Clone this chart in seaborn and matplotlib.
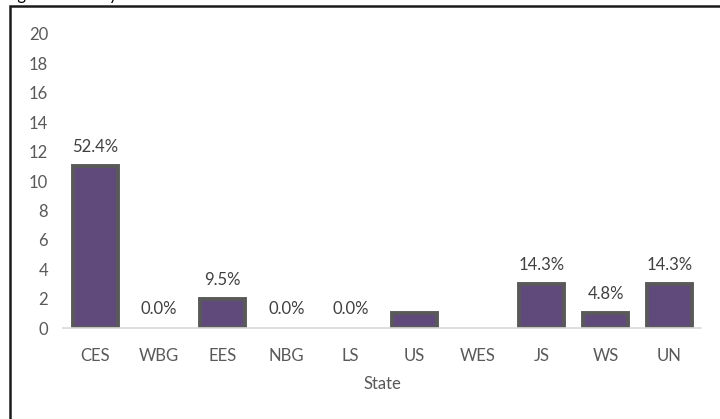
import matplotlib
matplotlib.use("Agg")
import matplotlib.pyplot as plt
import seaborn as sns
import pandas as pd
from matplotlib.patches import Rectangle

states = ["CES", "WBG", "EES", "NBG", "LS", "US", "WES", "JS", "WS", "UN"]
counts = [11, 0, 2, 0, 0, 1, 0, 3, 1, 3]
pct_labels = ["52.4%", "0.0%", "9.5%", "0.0%", "0.0%", "", "", "14.3%", "4.8%", "14.3%"]
y_ticks = [0, 2, 4, 6, 8, 10, 12, 14, 16, 18, 20]

sns.set_theme(style="white")
plt.rcParams['font.family'] = ['Lato', 'DejaVu Sans']

df = pd.DataFrame({"State": states, "Count": counts})

fig = plt.figure(figsize=(7.2, 4.19), dpi=100)
ax = fig.add_axes([0.088, 0.217, 0.886, 0.702])

sns.barplot(data=df, x="State", y="Count", ax=ax, color="#604A7B",
            width=0.71, edgecolor="#595959", linewidth=2.8, saturation=1)

for patch, v in zip(ax.patches, counts):
    if v == 0:
        patch.set_linewidth(0)

for i, (v, lab) in enumerate(zip(counts, pct_labels)):
    if lab:
        ax.annotate(lab, (i, v), xytext=(0, 8), textcoords="offset points",
                    ha="center", va="bottom", fontsize=12, color="#404040")

ax.set_ylim(0, 20)
ax.set_xlim(-0.5, len(states) - 0.5)
ax.set_yticks(y_ticks)
ax.tick_params(axis="both", length=0, labelsize=12, colors="#595959")
ax.tick_params(axis="y", pad=11)
ax.tick_params(axis="x", pad=14)
for s in ["top", "right", "left"]:
    ax.spines[s].set_visible(False)
ax.spines["bottom"].set_color("#D9D9D9")
ax.spines["bottom"].set_linewidth(1.2)
ax.set_ylabel("")
ax.set_xlabel("State", fontsize=12, color="#595959", labelpad=9)

# outer frame (partly cropped)
fig.patches.append(Rectangle((9.5 / 720, -0.1), 1.2, 1 - 6.5 / 419 + 0.1,
                             transform=fig.transFigure, fill=False,
                             edgecolor="#1a1a1a", linewidth=1.8, clip_on=False))
fig.text(0.005, 1.0 + 5 / 419, "Figure 6: FSI by state in 2021", fontsize=12,
         color="black", va="center", ha="left")

fig.savefig("out.png", dpi=100)
